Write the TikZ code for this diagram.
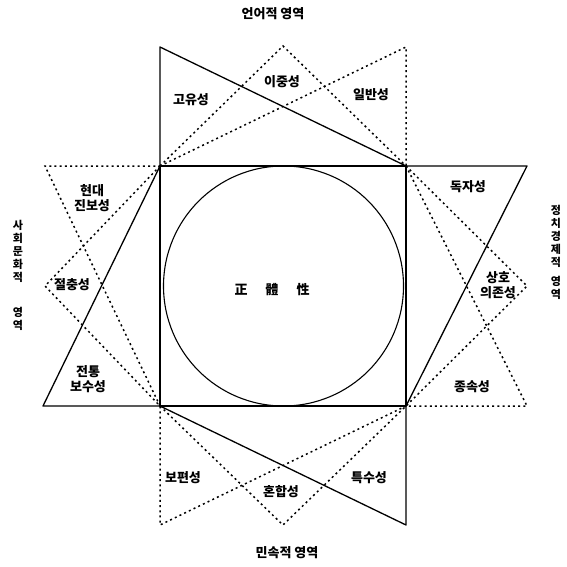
\documentclass[tikz,border=0pt]{standalone}
\usepackage{fontspec}
\setmainfont{Noto Sans CJK KR}
\usetikzlibrary{calc}

\begin{document}
\begin{tikzpicture}[x=1pt,y=-1pt,
    solidline/.style={line width=1.3pt,line join=round},
    dotline/.style={line width=1.5pt,dash pattern=on 2pt off 3.2pt},
    lbl/.style={font=\fontsize{13}{15}\selectfont\bfseries,align=center,inner sep=0pt},
    vlbl/.style={font=\fontsize{11}{13}\selectfont\bfseries,align=center,inner sep=0pt}]
  \useasboundingbox[fill=white] (0,0) rectangle (567,567);

  % square
  \coordinate (NW) at (160,166);
  \coordinate (NE) at (406,166);
  \coordinate (SE) at (406,406);
  \coordinate (SW) at (160,406);
  % top points
  \coordinate (T1) at (160,47);
  \coordinate (T2) at (283,46);
  \coordinate (T3) at (406,47);
  % right points
  \coordinate (R1) at (527,166);
  \coordinate (R2) at (527,286);
  \coordinate (R3) at (527,406);
  % bottom points
  \coordinate (B1) at (406,525);
  \coordinate (B2) at (283,525);
  \coordinate (B3) at (160,525);
  % left points
  \coordinate (L1) at (43,406);
  \coordinate (L2) at (45,286);
  \coordinate (L3) at (45,166);

  % dotted triangles
  \draw[dotline] (NW) -- (T2) -- (NE);
  \draw[dotline] (NW) -- (T3) -- (NE);
  \draw[dotline] (NE) -- (R2) -- (SE);
  \draw[dotline] (NE) -- (R3) -- (SE);
  \draw[dotline] (SW) -- (B2) -- (SE);
  \draw[dotline] (SE) -- (B3) -- (SW);
  \draw[dotline] (NW) -- (L2) -- (SW);
  \draw[dotline] (SW) -- (L3) -- (NW);

  % solid triangles and square
  \draw[solidline] (NW) -- (T1) -- (NE);
  \draw[solidline] (NE) -- (R1) -- (SE);
  \draw[solidline] (SE) -- (B1) -- (SW);
  \draw[solidline] (SW) -- (L1) -- (NW);
  \draw[solidline] (NW) rectangle (SE);
  \draw[line width=1.1pt] (283.5,286) circle [radius=120];

  % centre
  \node[lbl] (core) at (272,290) {正\hspace{18pt}體\hspace{18pt}性};

  % region titles
  \node[lbl] (top) at (273,14) {언어적 영역};
  \node[lbl] (bottom) at (287,553) {민속적 영역};
  \node[vlbl] (left1) at (18,251) {사\\회\\문\\화\\적};
  \node[vlbl] (left2) at (18,319) {영\\역};
  \node[vlbl] (right1) at (556,236) {정\\치\\경\\제\\적};
  \node[vlbl] (right2) at (556,288) {영\\역};

  % top labels
  \node[lbl] (goyu) at (191,100) {고유성};
  \node[lbl] (ijung) at (282,82) {이중성};
  \node[lbl] (ilban) at (371,95) {일반성};
  % left labels
  \node[lbl] (hyeondae) at (92,198) {현대\\진보성};
  \node[lbl] (jeolchung) at (72,285) {절충성};
  \node[lbl] (jeontong) at (88,379) {전통\\보수성};
  % right labels
  \node[lbl] (dokja) at (468,187) {독자성};
  \node[lbl] (sangho) at (498,285) {상호\\의존성};
  \node[lbl] (jongsok) at (472,387) {종속성};
  % bottom labels
  \node[lbl] (bopyeon) at (183,478) {보편성};
  \node[lbl] (honhap) at (281,492) {혼합성};
  \node[lbl] (teuksu) at (369,478) {특수성};
\end{tikzpicture}
\end{document}
